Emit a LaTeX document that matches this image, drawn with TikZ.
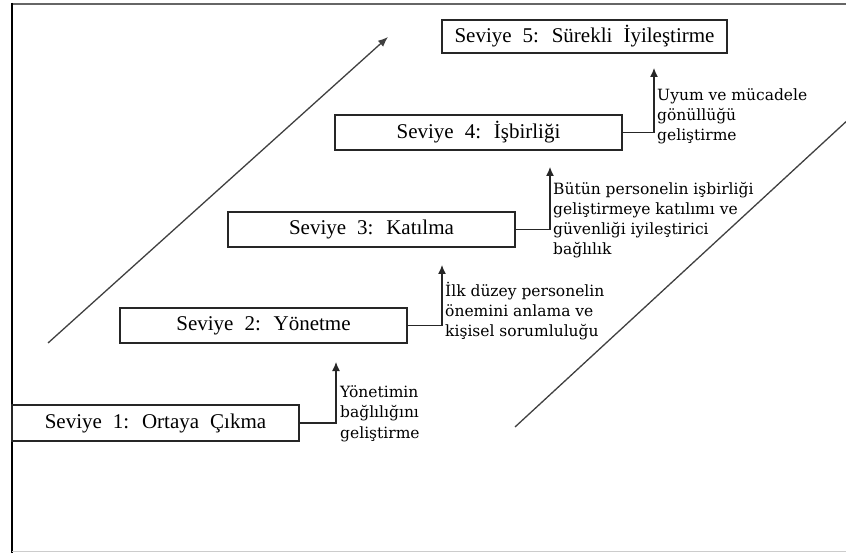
\documentclass[tikz,border=0pt]{standalone}
\usepackage{fontspec}
\setmainfont{Liberation Serif}
\newfontfamily\lvlfont[WordSpace=2.1]{Liberation Serif}
\newfontfamily\notefont{DejaVu Serif}
\usetikzlibrary{arrows.meta}

\begin{document}
\begin{tikzpicture}[x=1pt,y=-1pt,
  level/.style={draw=black!85, line width=1.2pt, fill=white,
    minimum width=287pt, minimum height=35pt, inner sep=0pt,
    font=\lvlfont\fontsize{21}{24}\selectfont},
  note/.style={anchor=base west, align=left, inner sep=0pt,
    font=\notefont\fontsize{15.5}{20.3}\selectfont},
  link/.style={draw=black!85, line width=1.2pt, -{Latex[length=9pt,width=8pt]}},
  trend/.style={draw=black!75, line width=1.3pt},
  frame/.style={line width=2pt}]
\useasboundingbox (0,0) rectangle (846,553);
\clip (0,0) rectangle (846,553);

% outer frame (open on the right)
\draw[frame, black!60] (12,4) -- (846,4);
\draw[frame, black] (12,3) -- (12,553);
\draw[line width=1.2pt, black!20] (12,551.5) -- (846,551.5);

% rising trend lines
\coordinate (upA0) at (48,343);
\coordinate (upA1) at (388,37);
\coordinate (upB0) at (515,427);
\coordinate (upB1) at (850,118);
\draw[trend, -{Latex[length=10pt,width=8pt]}] (upA0) -- (upA1);
\draw[trend] (upB0) -- (upB1);

% the five levels
\node[level, minimum height=36pt] (s1) at (155.5,423) {Seviye 1: Ortaya Çıkma};
\node[level] (s2) at (263.5,325.5) {Seviye 2: Yönetme};
\node[level] (s3) at (371.5,229.5) {Seviye 3: Katılma};
\node[level] (s4) at (478.5,132.5) {Seviye 4: İşbirliği};
\node[level, minimum width=285pt, minimum height=33pt] (s5) at (584.5,36.5) {Seviye 5: Sürekli İyileştirme};

% arrow tips below each next level
\coordinate (t1) at (336,362);
\coordinate (t2) at (442,265);
\coordinate (t3) at (550,167);
\coordinate (t4) at (654,68);

\draw[link] (s1.east) -| (t1);
\draw[link] (s2.east) -| (t2);
\draw[link] (s3.east) -| (t3);
\draw[link] (s4.east) -| (t4);

% step descriptions (placed by the baseline of their last line)
\node[note] (n1) at (340,438) {Yönetimin\\bağlılığını\\geliştirme};
\node[note] (n2) at (445,337) {İlk düzey personelin\\önemini anlama ve\\kişisel sorumluluğu};
\node[note] (n3) at (553,255) {Bütün personelin işbirliği\\geliştirmeye katılımı ve\\güvenliği iyileştirici\\bağlılık};
\node[note] (n4) at (657,141) {Uyum ve mücadele\\gönüllüğü\\geliştirme};
\end{tikzpicture}
\end{document}
